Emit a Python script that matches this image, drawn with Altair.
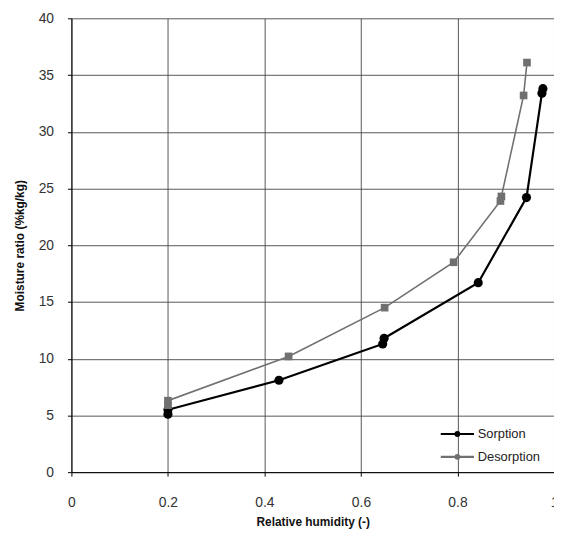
import altair as alt
import pandas as pd

sorp_rh = [0.20, 0.20, 0.43, 0.645, 0.648, 0.843, 0.943, 0.975, 0.977]
sorp_mr = [5.1, 5.5, 8.1, 11.3, 11.8, 16.7, 24.2, 33.4, 33.8]
des_rh = [0.20, 0.20, 0.45, 0.649, 0.792, 0.889, 0.891, 0.937, 0.944]
des_mr = [5.9, 6.3, 10.2, 14.5, 18.5, 23.9, 24.3, 33.2, 36.1]
series = ["Sorption", "Desorption"]

rows = []
for i, (x, y) in enumerate(zip(sorp_rh, sorp_mr)):
    rows.append({"rh": x, "mr": y, "series": series[0], "order": i})
for i, (x, y) in enumerate(zip(des_rh, des_mr)):
    rows.append({"rh": x, "mr": y, "series": series[1], "order": i})
df = pd.DataFrame(rows)
df["series_pt"] = df["series"]

colors = ["#000000", "#707070"]

x = alt.X("rh:Q", title="Relative humidity (-)",
          scale=alt.Scale(domain=[0, 1], nice=False),
          axis=alt.Axis(values=[0, 0.2, 0.4, 0.6, 0.8, 1], format="~g",
                        labelFlush=False))
y = alt.Y("mr:Q", title="Moisture ratio (%kg/kg)",
          scale=alt.Scale(domain=[0, 40], nice=False),
          axis=alt.Axis(values=list(range(0, 41, 5))))

legend_path = "M-3.2,0H3.2M-0.35,0A0.35,0.35 0 1,0 0.35,0A0.35,0.35 0 1,0 -0.35,0"

lines = alt.Chart(df).mark_line().encode(
    x=x, y=y, order="order:Q",
    color=alt.Color("series:N", sort=series,
                    scale=alt.Scale(domain=series, range=colors),
                    legend=alt.Legend(title=None, orient="none",
                                      legendX=383, legendY=413,
                                      symbolType=legend_path, symbolSize=110,
                                      symbolStrokeWidth=2.2, labelFontSize=13,
                                      labelColor="#222", rowPadding=9,
                                      labelOffset=14,
                                      labelFont="Liberation Sans")),
    strokeWidth=alt.StrokeWidth("series:N", scale=alt.Scale(domain=series, range=[2.2, 1.6]), legend=None),
)

points = alt.Chart(df).mark_point(filled=True, opacity=1).encode(
    x=x, y=y,
    fill=alt.Fill("series_pt:N", scale=alt.Scale(domain=series, range=colors), legend=None),
    shape=alt.Shape("series_pt:N", scale=alt.Scale(domain=series, range=["circle", "square"]), legend=None),
    size=alt.Size("series_pt:N", scale=alt.Scale(domain=series, range=[85, 60]), legend=None),
)

chart = alt.layer(lines, points).resolve_scale(
    color="independent", shape="independent", size="independent"
).properties(
    width=487, height=458,
    autosize=alt.AutoSizeParams(type="none"),
    padding={"left": 64, "top": 8, "right": 0, "bottom": 60},
).configure_view(stroke=None).configure_axis(
    grid=True, gridColor="#444", gridWidth=1, gridOpacity=0.9,
    domainColor="#000", domainWidth=1, tickColor="#000", tickSize=4,
    labelFont="Liberation Sans", labelFontSize=14, labelColor="#333",
    titleFont="Liberation Sans", titleFontSize=12, titleFontWeight="bold",
    titleColor="#111",
).configure_axisX(titlePadding=7, labelPadding=20).configure_axisY(titlePadding=12, labelPadding=14)

chart.save("out.html", embed_options={"renderer": "svg", "actions": False})
